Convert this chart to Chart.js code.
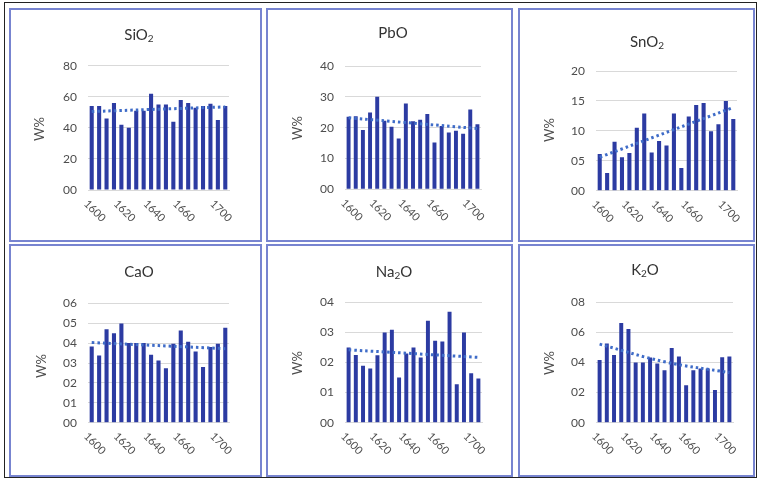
<!DOCTYPE html>
<html><head><meta charset="utf-8">
<script src="https://cdn.jsdelivr.net/npm/chart.js@4/dist/chart.umd.min.js"></script>
<style>
html,body{margin:0;padding:0;background:#fff;}
#root{position:relative;width:759px;height:480px;overflow:hidden;background:#fff;}
.outer{position:absolute;left:4px;top:2px;width:753px;height:476px;border:1px solid #222;box-sizing:border-box;}
.frame{position:absolute;border:2px solid #7784d0;box-sizing:border-box;}
canvas{position:absolute;}
</style></head>
<body><div id="root"><div class="outer"></div></div>
<script>
// ---- data ----
const years = ['1600','1605','1610','1615','1620','1625','1630','1635','1640','1645','1650','1655','1660','1665','1670','1680','1690','1700','1705'];
const xTickLabels = ['1600','1620','1640','1660','1700'];

const sio2 = [54,54,46,56,42,40,51,51,62,55,55,44,58,56,53,54,55.5,45,54];
const pbo  = [23.5,23.7,19.2,24.9,30,22.2,20.3,16.5,27.8,22.1,22.6,24.4,15.2,20.5,18.4,19,18,25.9,21.1];
const sno2 = [6.15,2.97,8.17,5.6,6.3,10.5,12.9,6.4,8.3,7.55,12.9,3.8,12.4,14.3,14.65,9.95,11.1,15,12.0];
const cao  = [0.383,0.338,0.47,0.45,0.498,0.40,0.40,0.40,0.342,0.313,0.273,0.397,0.463,0.407,0.358,0.28,0.38,0.397,0.477];
const na2o = [0.25,0.225,0.189,0.18,0.224,0.30,0.309,0.15,0.23,0.25,0.217,0.339,0.272,0.27,0.369,0.128,0.30,0.164,0.147];
const k2o  = [0.417,0.527,0.45,0.662,0.622,0.40,0.40,0.433,0.393,0.349,0.497,0.44,0.249,0.349,0.36,0.36,0.217,0.435,0.44];

const sio2Trend = [50.5, 53.5];
const pboTrend  = [23.2, 19.7];
const sno2Trend = [5.6, 13.9];
const caoTrend  = [0.403, 0.372];
const na2oTrend = [0.242, 0.217];
const k2oTrend  = [0.522, 0.405, 0.333];

const sio2Ticks = ['00','20','40','60','80'];
const pboTicks  = ['00','10','20','30','40'];
const sno2Ticks = ['00','05','10','15','20'];
const caoTicks  = ['00','01','02','03','04','05','06'];
const na2oTicks = ['00','01','02','03','04'];
const k2oTicks  = ['00','02','04','06','08'];

const titleMain = ['SiO','PbO','SnO','CaO','Na','K'];
const titleSub  = ['2','','2','','2','2'];
const titleTail = ['','','','','O','O'];
const yTitle = 'W%';

// ---- layout (page pixels) ----
const panels = [
  {vals:sio2, trend:sio2Trend, ticks:sio2Ticks, step:20,  frame:[9,8,253,234],   plot:[88,65.7,229,190],   title:[139,35], wt:[40,129]},
  {vals:pbo,  trend:pboTrend,  ticks:pboTicks,  step:10,  frame:[266,8,247,234], plot:[345,66,481,189.3], title:[393,33], wt:[298,128]},
  {vals:sno2, trend:sno2Trend, ticks:sno2Ticks, step:5,   frame:[518,8,237,234], plot:[596,71,737,190.7], title:[647,42], wt:[550,130]},
  {vals:cao,  trend:caoTrend,  ticks:caoTicks,  step:0.1, frame:[9,244,253,233], plot:[88,303.3,229,422.7], title:[139,272], wt:[42,366]},
  {vals:na2o, trend:na2oTrend, ticks:na2oTicks, step:0.1, frame:[266,244,247,233], plot:[345,302.3,482,422.7], title:[394,272], wt:[298,363]},
  {vals:k2o,  trend:k2oTrend,  ticks:k2oTicks,  step:0.2, frame:[518,244,237,233], plot:[596,302.3,733,422.7], title:[645,270], wt:[550,363]}
];

const FONT = "Lato, 'Open Sans', sans-serif";
const root = document.getElementById('root');

panels.forEach((p, k) => {
  const [fx, fy, fw, fh] = p.frame;
  const fr = document.createElement('div');
  fr.className = 'frame';
  Object.assign(fr.style, {left: fx+'px', top: fy+'px', width: fw+'px', height: fh+'px'});
  root.appendChild(fr);
  const cv = document.createElement('canvas');
  cv.width = fw; cv.height = fh;
  Object.assign(cv.style, {left: fx+'px', top: fy+'px', width: fw+'px', height: fh+'px'});
  root.appendChild(cv);

  const [px0, py0, px1, py1] = p.plot;
  const yW = 50, xH = 30;
  const padL = (px0 - fx) - yW;
  const padR = (fx + fw) - px1;
  const padT = py0 - fy;
  const padB = (fy + fh) - py1 - xH;

  const n = years.length;
  const trendData = new Array(n).fill(null);
  const m = p.trend.length;
  p.trend.forEach((v, i) => { trendData[Math.round(i * (n - 1) / (m - 1))] = v; });

  const ymax = p.step * (p.ticks.length - 1);

  const decor = {
    id: 'decor',
    afterDraw(chart) {
      const ctx = chart.ctx;
      ctx.save();
      const tx = p.title[0] - fx, ty = p.title[1] - fy;
      ctx.fillStyle = '#333333';
      ctx.textBaseline = 'middle';
      const a = titleMain[k], b = titleSub[k], c = titleTail[k];
      ctx.font = "15px " + FONT; const wa = ctx.measureText(a).width;
      ctx.font = "10px " + FONT; const wb = ctx.measureText(b).width;
      ctx.font = "15px " + FONT; const wc = ctx.measureText(c).width;
      let x = tx - (wa + wb + wc) / 2;
      ctx.textAlign = 'left';
      ctx.font = "15px " + FONT; ctx.fillText(a, x, ty); x += wa;
      ctx.font = "10px " + FONT; ctx.fillText(b, x, ty + 4); x += wb;
      ctx.font = "15px " + FONT; ctx.fillText(c, x, ty);
      ctx.save();
      ctx.translate(p.wt[0] - fx, p.wt[1] - fy);
      ctx.rotate(-Math.PI / 2);
      ctx.font = "13px " + FONT;
      ctx.fillStyle = '#4d4d4d';
      ctx.textAlign = 'center';
      ctx.fillText(yTitle, 0, 0);
      ctx.restore();
      const xs = chart.scales.x;
      ctx.font = "11px " + FONT;
      ctx.fillStyle = '#4d4d4d';
      ctx.textAlign = 'left';
      ctx.textBaseline = 'top';
      xTickLabels.forEach(lbl => {
        const idx = years.indexOf(lbl);
        if (idx < 0) return;
        const px = xs.getPixelForValue(idx);
        ctx.save();
        ctx.translate(px - 2, chart.chartArea.bottom + 8);
        ctx.rotate(Math.PI / 4);
        ctx.fillText(lbl, 0, 0);
        ctx.restore();
      });
      ctx.restore();
    }
  };

  new Chart(cv, {
    data: {
      labels: years,
      datasets: [
        {type: 'line', data: trendData, spanGaps: true, borderColor: '#3f6cc8', borderWidth: 3,
         borderDash: [2.5, 3], pointRadius: 0, tension: 0.4, order: 0, fill: false},
        {type: 'bar', data: p.vals, backgroundColor: '#2c3ba2', borderWidth: 0,
         barPercentage: 0.55, categoryPercentage: 1.0, order: 1}
      ]
    },
    options: {
      responsive: false, animation: false, devicePixelRatio: 1,
      layout: {padding: {left: padL, right: padR, top: padT, bottom: padB}},
      plugins: {legend: {display: false}, tooltip: {enabled: false}, title: {display: false}},
      scales: {
        x: {
          type: 'category', offset: true,
          grid: {display: false, drawTicks: false},
          border: {display: true, color: '#d9d9d9'},
          ticks: {display: false},
          afterFit(s) { s.height = xH; }
        },
        y: {
          min: 0, max: ymax,
          grid: {color: '#d9d9d9', drawTicks: false, lineWidth: 1},
          border: {display: false},
          ticks: {stepSize: p.step, padding: 11, color: '#4d4d4d', font: {family: FONT, size: 12},
                  callback: (v, i) => p.ticks[i]},
          afterFit(s) { s.width = yW; }
        }
      }
    },
    plugins: [decor]
  });
});
</script>
</body></html>
